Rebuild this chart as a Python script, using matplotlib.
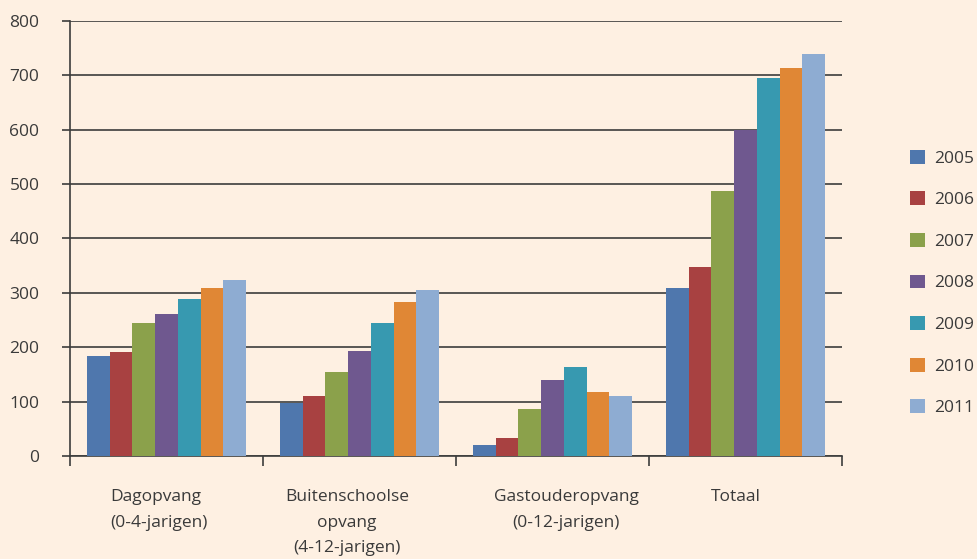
import matplotlib
matplotlib.use("Agg")
import matplotlib.pyplot as plt
import numpy as np

categories = ["Dagopvang\n(0-4-jarigen)", "Buitenschoolse\nopvang\n(4-12-jarigen)",
              "Gastouderopvang\n(0-12-jarigen)", "Totaal"]
years = ["2005", "2006", "2007", "2008", "2009", "2010", "2011"]
values = {
    "2005": [183, 97, 21, 309],
    "2006": [191, 110, 34, 347],
    "2007": [244, 154, 86, 487],
    "2008": [261, 194, 139, 600],
    "2009": [288, 244, 163, 696],
    "2010": [309, 283, 117, 714],
    "2011": [323, 305, 110, 740],
}
colors = ["#4F77AD", "#A84141", "#8BA14B", "#6F588F", "#3799B0", "#E08735", "#8EACD2"]
yticks = [0, 100, 200, 300, 400, 500, 600, 700, 800]

bg = "#FEF0E2"
txt = "#3A3A3A"
fs = 12.5
plt.rcParams['font.family'] = ['Open Sans', 'DejaVu Sans']

fig = plt.figure(figsize=(9.78, 5.59), dpi=100, facecolor=bg)
ax = fig.add_axes([70/978, 1-456/559, (842-70)/978, (456-21)/559])
ax.set_facecolor(bg)

n = len(years)
group_w = 0.824
bw = group_w / n
x = np.arange(len(categories))
for i, (y, c) in enumerate(zip(years, colors)):
    ax.bar(x - group_w/2 + bw*(i+0.5), values[y], width=bw, color=c, label=y, zorder=3)

ax.set_xlim(-0.5, len(categories)-0.5)
ax.set_ylim(0, 800)
ax.set_yticks(yticks)
ax.set_yticklabels([str(v) for v in yticks])
ax.yaxis.grid(True, color="#3C3C3C", linewidth=1.2, zorder=1)
ax.set_axisbelow(True)

ax.set_xticks(np.arange(len(categories)+1) - 0.5)
ax.set_xticklabels([])
# category labels, slightly shifted as in the original layout
label_shift = np.array([-0.04, -0.065, 0.07, -0.05])
ax.set_xticks(x + label_shift, minor=True)
labs = ax.set_xticklabels(categories, minor=True, linespacing=1.78)
labs[0].set_multialignment('left')
ax.tick_params(axis='x', which='minor', length=0, pad=24, labelsize=fs, labelcolor=txt)
ax.tick_params(axis='x', which='major', length=7, width=1.2, color="#3C3C3C", direction='out')
ax.tick_params(axis='y', length=6, width=1.2, color="#3C3C3C", pad=16, labelsize=fs, labelcolor=txt)

for s in ["top", "right"]:
    ax.spines[s].set_visible(False)
for s in ["left", "bottom"]:
    ax.spines[s].set_color("#3C3C3C")
    ax.spines[s].set_linewidth(1.2)

leg = ax.legend(loc="center left", bbox_to_anchor=(910/978, 1-283/559), bbox_transform=fig.transFigure,
                frameon=False, handlelength=0.85, handleheight=0.85, labelspacing=1.42,
                handletextpad=0.55, fontsize=fs, borderaxespad=0, borderpad=0)
for t in leg.get_texts():
    t.set_color(txt)

fig.savefig("out.png", dpi=100, facecolor=bg)
